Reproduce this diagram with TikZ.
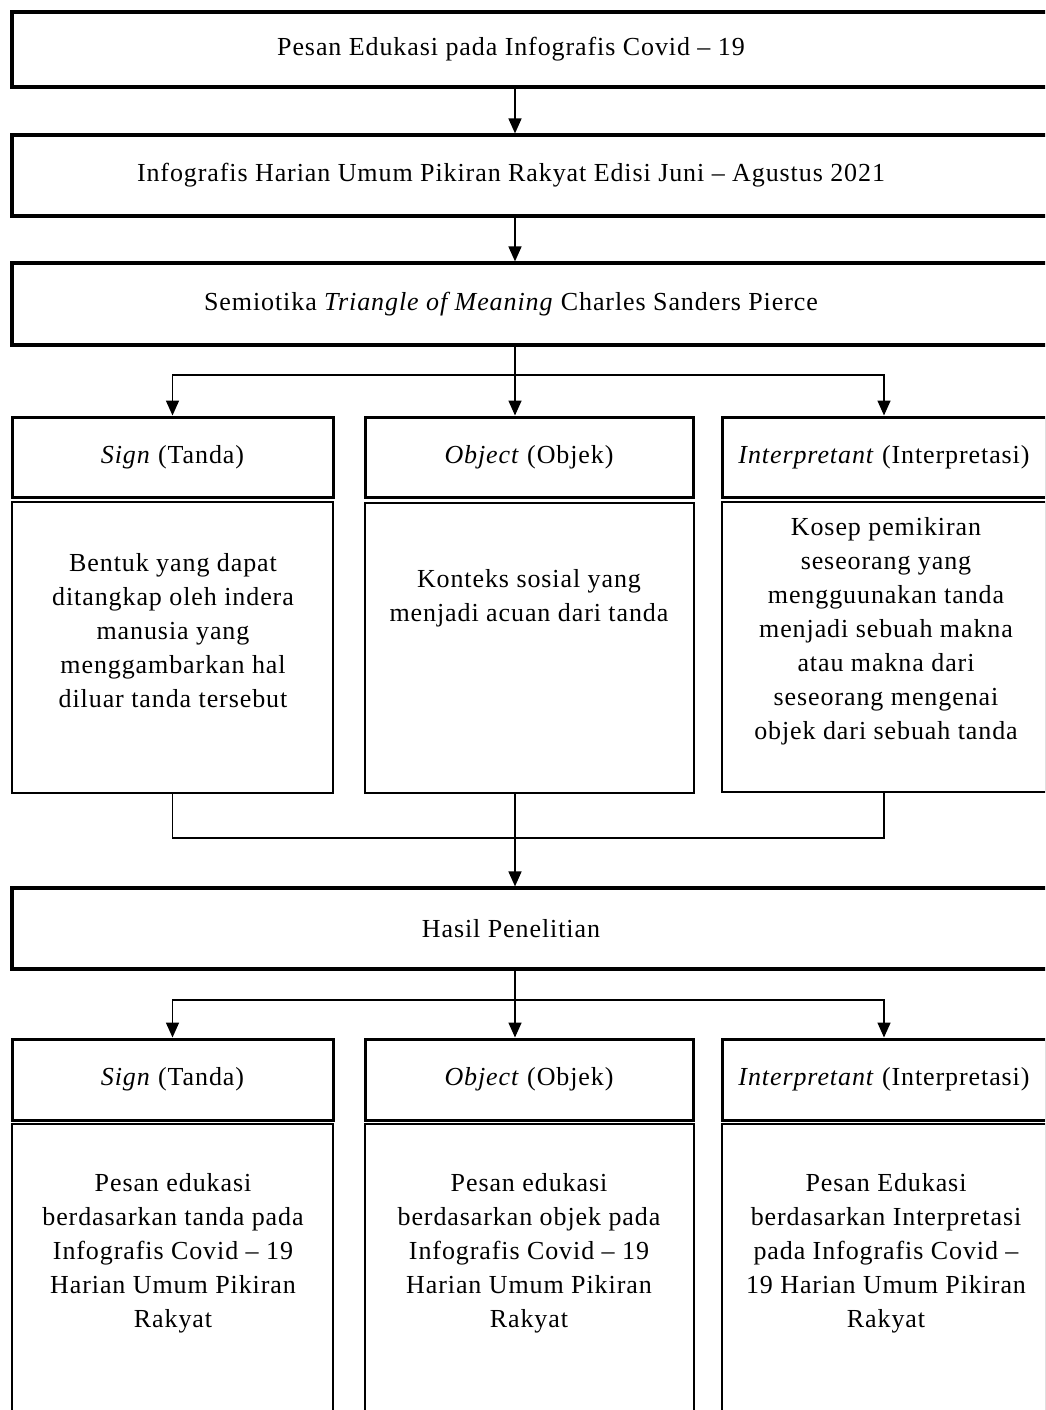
\documentclass[tikz,border=0pt]{standalone}
\usepackage{fontspec}
\setmainfont{Liberation Serif}[LetterSpace=3.5]
\usetikzlibrary{arrows.meta,calc}

\tikzset{every picture/.style={line width=1.6pt}}
\tikzset{
  widebox/.style={draw, line width=3.2pt, minimum width=1048pt, minimum height=78pt, inner sep=0pt},
  headbox/.style={draw, line width=3pt, minimum height=80pt, inner sep=0pt},
  bodybox/.style={draw, line width=1.8pt, inner sep=0pt},
  bodytxt/.style={align=center, inner sep=0pt},
  conn/.style={line width=1.6pt},
  arr/.style={line width=1.6pt, -{Triangle[length=15pt,width=13pt]}}
}
\newcommand{\shifttxt}[1]{#1\hspace*{50pt}}

\begin{document}
\begin{tikzpicture}[x=1pt,y=1pt,yscale=-1,xscale=1,font=\fontsize{26}{34}\selectfont]

\clip (0,0) rectangle (1045,1410);
\fill[white] (0,0) rectangle (1045,1410);

\coordinate (spine) at (515,0);

% wide boxes
\node[widebox, minimum height=75pt] (pesan) at (536,49.5) {\shifttxt{Pesan Edukasi pada Infografis Covid -- 19}};
\node[widebox, minimum height=81pt] (info) at (536,175.5) {\shifttxt{Infografis Harian Umum Pikiran Rakyat Edisi Juni -- Agustus 2021}};
\node[widebox, minimum height=82pt] (semi) at (536,304) {\shifttxt{\raisebox{4pt}{Semiotika \textit{Triangle of Meaning} Charles Sanders Pierce}}};

\draw[arr] (pesan.south -| spine) -- (info.north -| spine);
\draw[arr] (info.south -| spine) -- (semi.north -| spine);

% first row
\node[headbox, minimum width=321pt] (shead) at (172.5,457) {\textit{Sign} (Tanda)};
\node[headbox, minimum width=328pt] (ohead) at (529,457) {\textit{Object} (Objek)};
\node[headbox, minimum width=324pt] (ihead) at (884,457) {\textit{Interpretant} (Interpretasi)};

\node[bodybox, minimum width=321pt, minimum height=291pt] (sbody) at (172.5,647.5) {};
\node[bodybox, minimum width=329pt, minimum height=290pt] (obody) at (529.5,648) {};
\node[bodybox, minimum width=324pt, minimum height=290pt] (ibody) at (884,647) {};

\node[bodytxt] (stxt) at (173,631) {Bentuk yang dapat\\ditangkap oleh indera\\manusia yang\\menggambarkan hal\\diluar tanda tersebut};
\node[bodytxt] (otxt) at (529,598) {Konteks sosial yang\\menjadi acuan dari tanda};
\node[bodytxt] (itxt) at (886,631) {Kosep pemikiran\\seseorang yang\\mengguunakan tanda\\menjadi sebuah makna\\atau makna dari\\seseorang mengenai\\objek dari sebuah tanda};

\coordinate (fork1) at (515,375);
\draw[conn] (semi.south -| spine) -- (fork1);
\draw[arr] (fork1) -| (shead.north);
\draw[arr] (fork1) -- (ohead.north -| fork1);
\draw[arr] (fork1) -| (ihead.north);

% join to result
\coordinate (join) at (515,838);
\draw[conn] (sbody.south) |- (join) -| (ibody.south);

\node[widebox, minimum height=81pt] (hasil) at (536,928.5) {\shifttxt{Hasil Penelitian}};
\draw[arr] (obody.south -| spine) -- (hasil.north -| spine);

% second row
\node[headbox, minimum width=321pt, minimum height=81pt] (shead2) at (172.5,1079.5) {\textit{Sign} (Tanda)};
\node[headbox, minimum width=328pt, minimum height=81pt] (ohead2) at (529,1079.5) {\textit{Object} (Objek)};
\node[headbox, minimum width=324pt, minimum height=81pt] (ihead2) at (884,1079.5) {\textit{Interpretant} (Interpretasi)};

\coordinate (fork2) at (515,1000);
\draw[conn] (hasil.south -| spine) -- (fork2);
\draw[arr] (fork2) -| (shead2.north);
\draw[arr] (fork2) -- (ohead2.north -| fork2);
\draw[arr] (fork2) -| (ihead2.north);

\node[bodybox, minimum width=321pt, minimum height=330pt] (sbody2) at (172.5,1289) {};
\node[bodybox, minimum width=329pt, minimum height=330pt] (obody2) at (529.5,1289) {};
\node[bodybox, minimum width=324pt, minimum height=330pt] (ibody2) at (884,1289) {};

\node[bodytxt] (stxt2) at (173,1253) {Pesan edukasi\\berdasarkan tanda pada\\Infografis Covid -- 19\\Harian Umum Pikiran\\Rakyat};
\node[bodytxt] (otxt2) at (529,1253) {Pesan edukasi\\berdasarkan objek pada\\Infografis Covid -- 19\\Harian Umum Pikiran\\Rakyat};
\node[bodytxt] (itxt2) at (886,1253) {Pesan Edukasi\\berdasarkan Interpretasi\\pada Infografis Covid --\\19 Harian Umum Pikiran\\Rakyat};

\end{tikzpicture}
\end{document}
